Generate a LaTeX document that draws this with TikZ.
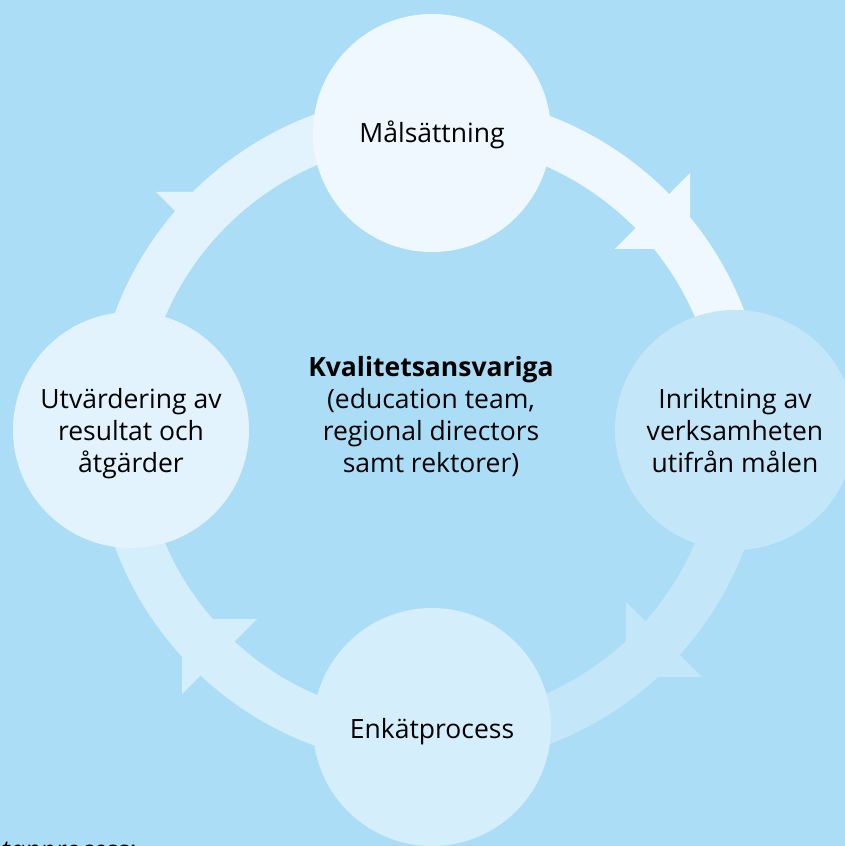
\documentclass[tikz,border=0pt]{standalone}
\usepackage{fontspec}
\setmainfont{Open Sans}
\definecolor{bgc}{HTML}{ABDEF6}
\definecolor{cA}{HTML}{EFF8FE}
\definecolor{cB}{HTML}{C3E7F9}
\definecolor{cC}{HTML}{D4EEFB}
\definecolor{cD}{HTML}{E3F3FD}
\tikzset{
  band/.style={line width=48pt},
  stage/.style={circle, inner sep=0pt},
  lbl/.style={align=center, text=black, inner sep=0pt, font=\fontsize{26.5}{32}\selectfont}
}
\begin{document}
\begin{tikzpicture}[x=1pt,y=1pt]
\useasboundingbox (0,0) rectangle (845,846);
\clip (0,0) rectangle (845,846);
\fill[bgc] (0,0) rectangle (845,846);
\coordinate (ctr) at (430,416);
% ring segments
\draw[band, cA] ([shift={(90:312)}]ctr) arc[start angle=90, end angle=0, radius=312];
\draw[band, cB] ([shift={(0:312)}]ctr) arc[start angle=0, end angle=-90, radius=312];
\draw[band, cC] ([shift={(-90:312)}]ctr) arc[start angle=-90, end angle=-180, radius=312];
\draw[band, cD] ([shift={(180:312)}]ctr) arc[start angle=180, end angle=90, radius=312];
% arrowheads
\fill[cA] (690,673) -- (615,597) -- (690,597) -- cycle;
\fill[cB] (626,244) -- (702,169) -- (626,169) -- cycle;
\fill[cC] (257,227) -- (182,152) -- (182,227) -- cycle;
\fill[cD] (156,654) -- (232,654) -- (194,616) -- cycle;
% stages
\node[stage, fill=cA, minimum size=238pt] (top) at (432,713) {};
\node[stage, fill=cB, minimum size=240pt] (right) at (735,416) {};
\node[stage, fill=cC, minimum size=238pt] (bottom) at (432,119) {};
\node[stage, fill=cD, minimum size=236pt] (left) at (131,416) {};
\node[lbl] (toptext) at ([yshift=-2pt]top.center) {Målsättning};
\node[lbl] (righttext) at ([yshift=-1pt]right.center) {Inriktning av\\verksamheten\\utifrån målen};
\node[lbl] (bottomtext) at ([yshift=-5pt]bottom.center) {Enkätprocess};
\node[lbl] (lefttext) at ([yshift=-4pt]left.center) {Utvärdering av\\resultat och\\åtgärder};
% centre
\node[lbl] (centre) at (431,429) {\textbf{Kvalitetsansvariga}\\(education team,\\regional directors\\samt rektorer)};
% cut-off text at the bottom
\node[anchor=base west, inner sep=0pt, font=\fontsize{26.5}{32}\selectfont\itshape] (cut) at (1,-13) {tanprocess:};
\end{tikzpicture}
\end{document}
